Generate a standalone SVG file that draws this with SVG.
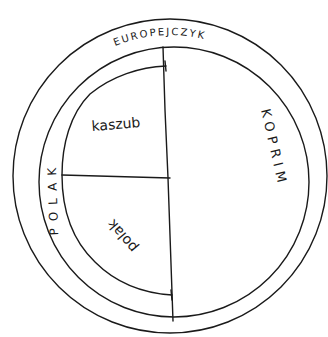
<svg xmlns="http://www.w3.org/2000/svg" width="328" height="337" viewBox="0 0 328 337">
<style>
.ln{fill:none;stroke:#1a1a1a;stroke-width:1.4;stroke-linecap:round;stroke-linejoin:round}
.t{font-family:"DejaVu Sans",sans-serif;fill:#1a1a1a}
</style>
<defs>
<path id="arcTop" d="M 29 176 A 141 141 0 0 1 311 176"/>
</defs>
<rect width="328" height="337" fill="#ffffff"/>
<g id="europejczyk">
<circle class="ln" cx="170" cy="176" r="157"/>
<text class="t" font-size="10" letter-spacing="2"><textPath href="#arcTop" startOffset="211" text-anchor="middle">EUROPEJCZYK</textPath></text>
</g>
<g id="inner">
<circle class="ln" cx="174" cy="182" r="135"/>
</g>
<g id="connectors">
<path class="ln" d="M163 47 L165 110 L168 178 L173 321"/>
<path class="ln" d="M62 175 L170 178"/>
<path class="ln" d="M166 66 C140 67 112 76 90 94 C70 114 62 145 62 175 C62 210 72 240 95 262 C115 282 140 293 172 295"/>
<path class="ln" d="M165 61 L166 71"/>
<path class="ln" d="M171 290 L172 300"/>
</g>
<g id="polak">
<text class="t" font-size="12" letter-spacing="7" text-anchor="middle" transform="translate(57,198) rotate(-92)">POLAK</text>
</g>
<g id="kaszub">
<text class="t" font-size="14" text-anchor="middle" x="116" y="129" transform="rotate(-5 116 125)">kaszub</text>
</g>
<g id="polak2">
<text class="t" font-size="14" text-anchor="middle" transform="translate(126,233) rotate(-130)">polak</text>
</g>
<g id="kordim">
<text class="t" font-size="13" letter-spacing="5" text-anchor="middle" transform="translate(270,149) rotate(77)">KOPRIM</text>
</g>
</svg>
